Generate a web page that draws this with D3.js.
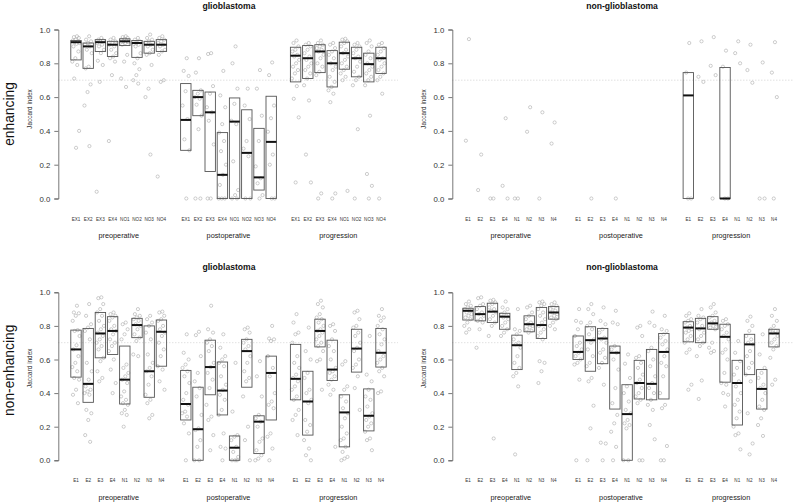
<!DOCTYPE html>
<html><head><meta charset="utf-8">
<script src="https://cdn.jsdelivr.net/npm/d3@7"></script>
<style>body{margin:0;background:#fff}svg{display:block}text{font-family:"Liberation Sans",Arial,Helvetica,sans-serif}</style>
</head><body><svg id="c" width="794" height="504"></svg>
<script>
// ---------- data ----------
const groups = ["preoperative", "postoperative", "progression"];
const catsEXNO = ["EX1","EX2","EX3","EX4","NO1","NO2","NO3","NO4"];
const catsEN = ["E1","E2","E3","E4","N1","N2","N3","N4"];
const rowLabels = ["enhancing", "non-enhancing"];
const colTitles = ["glioblastoma", "non-glioblastoma"];
const yTicks = [0, 0.2, 0.4, 0.6, 0.8, 1.0];
const threshold = 0.7;

// top-left: glioblastoma, enhancing
const tlQ1  = [0.82,0.77,0.87,0.84,0.905,0.835,0.86,0.87, 0.285,0.49,0.16,0.0,0.0,0.0,0.05,0.0, 0.69,0.71,0.745,0.66,0.765,0.72,0.69,0.74];
const tlMed = [0.925,0.90,0.925,0.91,0.93,0.92,0.91,0.91, 0.465,0.60,0.51,0.14,0.455,0.27,0.125,0.335, 0.845,0.83,0.87,0.80,0.86,0.83,0.795,0.83];
const tlQ3  = [0.935,0.92,0.94,0.93,0.945,0.935,0.93,0.94, 0.68,0.64,0.63,0.39,0.595,0.525,0.415,0.605, 0.895,0.905,0.91,0.875,0.925,0.895,0.86,0.895];
const tlPts = [
 [0.96,0.955,0.95,0.94,0.935,0.93,0.925,0.92,0.915,0.90,0.87,0.83,0.81,0.79,0.71,0.40,0.30],
 [0.96,0.94,0.93,0.92,0.91,0.90,0.88,0.86,0.78,0.77,0.675,0.63,0.55,0.31],
 [0.95,0.94,0.935,0.93,0.92,0.91,0.90,0.88,0.86,0.815,0.79,0.69,0.04],
 [0.95,0.94,0.93,0.92,0.91,0.90,0.88,0.86,0.84,0.83,0.81,0.73,0.34],
 [0.96,0.955,0.95,0.945,0.94,0.935,0.93,0.925,0.92,0.91,0.85,0.81,0.71,0.66],
 [0.95,0.94,0.93,0.92,0.915,0.91,0.90,0.86,0.83,0.80,0.765,0.73,0.70,0.68],
 [0.97,0.95,0.94,0.93,0.92,0.91,0.90,0.88,0.86,0.85,0.79,0.65,0.60,0.26],
 [0.96,0.95,0.94,0.93,0.92,0.91,0.90,0.88,0.87,0.85,0.70,0.69,0.13],
 [0.83,0.755,0.725,0.635,0.55,0.47,0.35,0.285,0.0],
 [0.83,0.745,0.64,0.62,0.60,0.59,0.555,0.49,0.41,0.0,0.0],
 [0.86,0.855,0.665,0.62,0.54,0.51,0.46,0.32,0.0,0.0],
 [0.755,0.61,0.54,0.44,0.39,0.34,0.28,0.20,0.14,0.08,0.0,0.0,0.0],
 [0.90,0.80,0.65,0.56,0.46,0.44,0.22,0.05,0.02,0.0,0.0],
 [0.65,0.55,0.47,0.34,0.295,0.25,0.0,0.0],
 [0.76,0.65,0.49,0.34,0.19,0.12,0.09,0.02,0.0],
 [0.805,0.73,0.55,0.475,0.395,0.26,0.20,0.0,0.0],
 [0.935,0.92,0.90,0.88,0.87,0.85,0.84,0.82,0.80,0.78,0.76,0.74,0.71,0.665,0.59,0.48,0.095],
 [0.92,0.91,0.90,0.88,0.86,0.84,0.82,0.80,0.78,0.76,0.74,0.71,0.67,0.58,0.26,0.095],
 [0.935,0.92,0.91,0.90,0.89,0.88,0.87,0.85,0.83,0.80,0.78,0.75,0.73,0.03,0.0],
 [0.92,0.91,0.89,0.87,0.85,0.83,0.80,0.78,0.76,0.72,0.69,0.66,0.64,0.62,0.57,0.03,0.0],
 [0.945,0.94,0.93,0.92,0.90,0.88,0.86,0.84,0.82,0.80,0.78,0.76,0.74,0.72,0.70,0.045],
 [0.92,0.91,0.90,0.88,0.86,0.84,0.83,0.81,0.78,0.75,0.72,0.70,0.67,0.41,0.0],
 [0.935,0.92,0.90,0.87,0.85,0.83,0.80,0.78,0.76,0.74,0.72,0.70,0.67,0.49,0.145,0.075,0.0],
 [0.92,0.91,0.89,0.87,0.85,0.83,0.82,0.80,0.78,0.76,0.74,0.72,0.70,0.62,0.0]
];

// top-right: non-glioblastoma, enhancing
const trQ1  = [null,null,null,null,null,null,null,null, null,null,null,null,null,null,null,null, 0.0,null,null,0.0,null,null,null,null];
const trMed = [null,null,null,null,null,null,null,null, null,null,null,null,null,null,null,null, 0.61,null,null,0.0,null,null,null,null];
const trQ3  = [null,null,null,null,null,null,null,null, null,null,null,null,null,null,null,null, 0.745,null,null,0.775,null,null,null,null];
const trPts = [
 [0.943,0.342],[0.26,0.05],[0,0],[0.475,0.075,0],[0,0],[0.54,0.395],[0.51,0],[0.45,0.325],
 [],[0],[],[0],[],[],[],[],
 [0.92,0.745,0,0],[0.93,0.72,0.69],[0.955,0.785,0.73,0],[0.875,0.78,0,0],[0.93,0.86,0.80],[0.91,0.76,0.685],[0.805,0,0],[0.925,0.745,0.60,0]
];

// bottom-left: glioblastoma, non-enhancing
const blQ1  = [0.495,0.345,0.61,0.63,0.335,0.73,0.375,0.56, 0.24,0.0,0.39,0.27,0.0,0.435,0.04,0.24, 0.36,0.15,0.675,0.475,0.08,0.525,0.175,0.555];
const blMed = [0.66,0.455,0.755,0.77,0.48,0.805,0.53,0.765, 0.335,0.185,0.555,0.415,0.075,0.65,0.23,0.52, 0.485,0.35,0.77,0.54,0.285,0.665,0.265,0.64];
const blQ3  = [0.775,0.785,0.88,0.855,0.68,0.845,0.80,0.835, 0.535,0.435,0.715,0.585,0.145,0.72,0.265,0.62, 0.69,0.53,0.84,0.715,0.39,0.78,0.425,0.785];
const blPts = [
 [0.92,0.88,0.875,0.86,0.83,0.775,0.77,0.74,0.685,0.66,0.62,0.58,0.555,0.53,0.49,0.48,0.42,0.39,0.34],
 [0.93,0.86,0.81,0.79,0.77,0.72,0.58,0.53,0.48,0.44,0.42,0.41,0.40,0.39,0.30,0.28,0.24,0.15,0.11],
 [0.97,0.965,0.93,0.90,0.88,0.86,0.83,0.80,0.78,0.76,0.74,0.72,0.70,0.68,0.66,0.61,0.59,0.53,0.49,0.47],
 [0.88,0.87,0.86,0.85,0.83,0.80,0.78,0.77,0.75,0.72,0.70,0.68,0.65,0.60,0.54,0.46,0.40],
 [0.82,0.81,0.78,0.75,0.72,0.57,0.55,0.52,0.50,0.48,0.46,0.41,0.38,0.36,0.34,0.33,0.30,0.28,0.27,0.20],
 [0.90,0.87,0.86,0.85,0.84,0.83,0.81,0.80,0.78,0.75,0.73,0.71,0.63,0.62],
 [0.86,0.84,0.82,0.80,0.76,0.72,0.63,0.58,0.55,0.53,0.50,0.45,0.39,0.36,0.34,0.27,0.25],
 [0.885,0.88,0.86,0.84,0.83,0.80,0.78,0.76,0.74,0.70,0.66,0.62,0.56,0.54,0.47,0.42],
 [0.75,0.64,0.60,0.57,0.55,0.53,0.50,0.46,0.40,0.36,0.33,0.29,0.28,0.26,0.22,0.16,0.0],
 [0.765,0.745,0.62,0.52,0.47,0.43,0.38,0.27,0.19,0.18,0.12,0.08,0.0,0.0],
 [0.92,0.78,0.76,0.72,0.70,0.68,0.65,0.58,0.555,0.52,0.48,0.43,0.33,0.26,0.24,0.15,0.06],
 [0.75,0.67,0.62,0.60,0.58,0.56,0.50,0.45,0.42,0.39,0.36,0.30,0.27,0.16,0.08,0.07,0.0],
 [0.58,0.29,0.15,0.14,0.12,0.08,0.05,0.02,0.0,0.0,0.0],
 [0.79,0.78,0.76,0.72,0.70,0.68,0.66,0.62,0.58,0.53,0.49,0.47,0.38,0.20,0.12,0.0],
 [0.59,0.50,0.38,0.27,0.25,0.23,0.20,0.13,0.11,0.06,0.03,0.01,0.0],
 [0.80,0.725,0.72,0.71,0.62,0.55,0.50,0.40,0.35,0.33,0.31,0.16,0.14,0.07,0.0],
 [0.87,0.82,0.76,0.75,0.70,0.62,0.58,0.55,0.51,0.49,0.47,0.44,0.42,0.38,0.36,0.30,0.27,0.24,0.15],
 [0.79,0.65,0.60,0.52,0.49,0.42,0.40,0.36,0.34,0.24,0.21,0.17,0.12,0.07,0.03,0.0],
 [0.95,0.93,0.91,0.87,0.85,0.84,0.82,0.80,0.78,0.77,0.76,0.74,0.72,0.70,0.68,0.65,0.60,0.59,0.42],
 [0.81,0.80,0.77,0.72,0.68,0.65,0.60,0.55,0.53,0.52,0.50,0.48,0.45,0.42,0.39,0.08],
 [0.59,0.57,0.44,0.42,0.38,0.35,0.31,0.28,0.25,0.20,0.16,0.13,0.12,0.08,0.05,0.02,0.01,0.0],
 [0.89,0.88,0.84,0.80,0.79,0.76,0.74,0.70,0.67,0.65,0.60,0.57,0.55,0.50,0.43,0.30],
 [0.74,0.51,0.47,0.42,0.38,0.36,0.32,0.28,0.26,0.24,0.22,0.20,0.17,0.13,0.12,0.06],
 [0.90,0.86,0.85,0.83,0.80,0.78,0.75,0.72,0.69,0.65,0.62,0.60,0.58,0.55,0.53,0.50,0.41,0.40]
];

// bottom-right: non-glioblastoma, non-enhancing
const brQ1  = [0.835,0.83,0.82,0.78,0.54,0.765,0.725,0.84, 0.60,0.53,0.575,0.305,0.0,0.365,0.36,0.365, 0.705,0.70,0.78,0.465,0.21,0.51,0.305,0.675];
const brMed = [0.89,0.87,0.885,0.855,0.685,0.81,0.805,0.88, 0.645,0.715,0.725,0.64,0.275,0.46,0.455,0.645, 0.79,0.785,0.815,0.735,0.46,0.69,0.425,0.755];
const brQ3  = [0.905,0.915,0.935,0.875,0.745,0.86,0.91,0.915, 0.74,0.795,0.785,0.68,0.45,0.595,0.66,0.755, 0.825,0.845,0.855,0.81,0.595,0.75,0.54,0.78];
const brPts = [
 [0.945,0.93,0.92,0.91,0.90,0.89,0.88,0.87,0.86,0.85,0.84,0.82,0.80,0.78,0.76],
 [0.97,0.965,0.93,0.92,0.90,0.88,0.87,0.86,0.84,0.83,0.82,0.78,0.67],
 [0.955,0.95,0.94,0.93,0.91,0.90,0.89,0.88,0.86,0.84,0.82,0.80,0.74,0.13],
 [0.945,0.91,0.90,0.88,0.87,0.86,0.85,0.84,0.82,0.80,0.78,0.76,0.74],
 [0.90,0.78,0.77,0.75,0.72,0.70,0.69,0.67,0.62,0.58,0.55,0.52,0.50,0.44,0.035],
 [0.92,0.91,0.88,0.86,0.84,0.82,0.81,0.80,0.79,0.78,0.77,0.76],
 [0.945,0.94,0.93,0.92,0.90,0.88,0.86,0.84,0.82,0.80,0.78,0.76,0.74,0.72,0.59,0.58,0.53,0.46],
 [0.94,0.93,0.92,0.91,0.90,0.89,0.88,0.87,0.86,0.85,0.84,0.82,0.80,0.78],
 [0.90,0.83,0.82,0.78,0.74,0.70,0.68,0.66,0.64,0.62,0.60,0.58,0.57,0.48,0.0],
 [0.93,0.90,0.87,0.82,0.80,0.78,0.75,0.72,0.70,0.66,0.62,0.58,0.56,0.49,0.47,0.325,0.19,0.0],
 [0.91,0.83,0.81,0.78,0.76,0.73,0.72,0.70,0.66,0.64,0.61,0.58,0.55,0.45,0.105,0.10,0.0],
 [0.89,0.82,0.81,0.68,0.66,0.64,0.60,0.54,0.43,0.34,0.27,0.22,0.17,0.08,0.0],
 [0.63,0.575,0.49,0.44,0.40,0.35,0.30,0.28,0.24,0.22,0.21,0.19,0.0,0.0],
 [0.80,0.79,0.74,0.62,0.61,0.58,0.55,0.51,0.48,0.46,0.43,0.40,0.38,0.36,0.34,0.0,0.0],
 [0.885,0.82,0.80,0.67,0.65,0.60,0.56,0.50,0.46,0.43,0.40,0.36,0.33,0.30,0.21,0.125],
 [0.86,0.78,0.77,0.75,0.73,0.71,0.69,0.66,0.62,0.58,0.56,0.50,0.40,0.33,0.31,0.085,0.0,0.0],
 [0.875,0.86,0.84,0.83,0.82,0.80,0.79,0.78,0.77,0.76,0.74,0.72,0.70,0.66,0.64,0.45,0.42],
 [0.90,0.86,0.85,0.84,0.82,0.80,0.78,0.76,0.74,0.72,0.70,0.68,0.62,0.475,0.365],
 [0.93,0.91,0.88,0.86,0.85,0.83,0.82,0.81,0.80,0.79,0.78,0.70,0.67,0.65,0.64],
 [0.84,0.83,0.81,0.80,0.78,0.76,0.74,0.72,0.66,0.64,0.60,0.52,0.46,0.45,0.40,0.39,0.32],
 [0.71,0.64,0.59,0.55,0.51,0.47,0.44,0.40,0.36,0.33,0.29,0.25,0.20,0.16,0.15,0.065],
 [0.855,0.83,0.80,0.77,0.74,0.72,0.70,0.69,0.65,0.62,0.58,0.55,0.51,0.47,0.28,0.10,0.035],
 [0.75,0.63,0.55,0.52,0.49,0.45,0.43,0.40,0.36,0.32,0.30,0.25,0.21,0.145],
 [0.90,0.86,0.83,0.80,0.78,0.77,0.76,0.74,0.72,0.70,0.68,0.66,0.61,0.48,0.45]
];

// ---------- layout ----------
const svg = d3.select("#c");
const FONT = '"Liberation Sans",Arial,Helvetica,sans-serif';
const panels = [
  {row:0, col:0, cats:catsEXNO, q1:tlQ1, med:tlMed, q3:tlQ3, pts:tlPts},
  {row:0, col:1, cats:catsEN,   q1:trQ1, med:trMed, q3:trQ3, pts:trPts},
  {row:1, col:0, cats:catsEN,   q1:blQ1, med:blMed, q3:blQ3, pts:blPts},
  {row:1, col:1, cats:catsEN,   q1:brQ1, med:brMed, q3:brQ3, pts:brPts}
];
const colGeom = [
  {axisX:58.3, regionR:398, first:76, last:381, titleX:229, ylabX:29.5},
  {axisX:452.3, regionR:793, first:468, last:774, titleX:622, ylabX:423}
];
const rowGeom = [
  {yTop:29.5, yBot:198.5, titleY:8.5, labOff:-5},
  {yTop:292.3, yBot:460.3, titleY:269.8, labOff:-8}
];
// slot positions: 3 groups of 8, with a gap between groups
const slotIndex = d => Math.floor(d / 8) * 9 + (d % 8) + 1;
const jitter = i => (((i + 1) * 0.6180339887) % 1 - 0.5) * 8;

panels.forEach(p => {
  const cg = colGeom[p.col], rg = rowGeom[p.row];
  const y = d3.scaleLinear().domain([0, 1]).range([rg.yBot, rg.yTop]);
  const x = d3.scaleLinear().domain([1, 26]).range([cg.first, cg.last]);
  const g = svg.append("g");
  const halfW = 5.2;

  // threshold line
  g.append("line").attr("x1", cg.axisX).attr("x2", cg.regionR)
    .attr("y1", y(threshold)).attr("y2", y(threshold))
    .attr("stroke", "#c8c8c8").attr("stroke-width", 0.8).attr("stroke-dasharray", "1,2");

  // y axis
  const ax = g.append("g").attr("transform", `translate(${cg.axisX},0)`)
    .call(d3.axisLeft(y).tickValues(yTicks).tickFormat(d3.format(".1f")).tickSize(4).tickPadding(4));
  ax.select(".domain").attr("stroke", "#555").attr("stroke-width", 0.8);
  ax.selectAll(".tick line").attr("stroke", "#555").attr("stroke-width", 0.8);
  ax.selectAll(".tick text").attr("font-family", FONT).attr("font-size", 7.8).attr("fill", "#333");

  // y label
  g.append("text").attr("transform", `translate(${cg.ylabX},${(rg.yTop + rg.yBot) / 2 + rg.labOff}) rotate(-90)`)
    .attr("text-anchor", "middle").attr("dominant-baseline", "central")
    .attr("font-size", 6.4).attr("fill", "#333").text("Jaccard index");

  // title
  g.append("text").attr("x", cg.titleX).attr("y", rg.titleY).attr("text-anchor", "middle")
    .attr("font-size", 8.6).attr("font-weight", "bold").attr("fill", "#111").text(colTitles[p.col]);

  // points
  p.pts.forEach((vals, ci) => {
    const cx = x(slotIndex(ci));
    g.selectAll(null).data(vals).enter().append("circle")
      .attr("cx", (d, i) => cx + jitter(i)).attr("cy", d => y(d)).attr("r", 1.6)
      .attr("fill", "none").attr("stroke", "#ababab").attr("stroke-width", 0.6);
  });

  // boxes
  p.q1.forEach((q1, ci) => {
    if (q1 === null) return;
    const cx = x(slotIndex(ci));
    g.append("rect").attr("x", cx - halfW).attr("width", 2 * halfW)
      .attr("y", y(p.q3[ci])).attr("height", Math.max(0.5, y(q1) - y(p.q3[ci])))
      .attr("fill", "none").attr("stroke", "#555").attr("stroke-width", 0.9);
    g.append("line").attr("x1", cx - halfW).attr("x2", cx + halfW)
      .attr("y1", y(p.med[ci])).attr("y2", y(p.med[ci]))
      .attr("stroke", "#111").attr("stroke-width", 2);
  });

  // category labels
  for (let ci = 0; ci < 24; ci++) {
    g.append("text").attr("x", x(slotIndex(ci))).attr("y", rg.yBot + 22)
      .attr("text-anchor", "middle").attr("font-size", 4.6).attr("fill", "#333")
      .text(p.cats[ci % 8]);
  }
  // group labels
  groups.forEach((gname, gi) => {
    const cx = (x(slotIndex(gi * 8)) + x(slotIndex(gi * 8 + 7))) / 2;
    g.append("text").attr("x", cx).attr("y", rg.yBot + 39.5)
      .attr("text-anchor", "middle").attr("font-size", 7.3).attr("fill", "#222").text(gname);
  });
});

// row labels
rowGeom.forEach((rg, ri) => {
  svg.append("text").attr("transform", `translate(9,${(rg.yTop + rg.yBot) / 2 + (ri ? -6 : 0)}) rotate(-90)`)
    .attr("text-anchor", "middle").attr("dominant-baseline", "central")
    .attr("font-size", 13.8).attr("fill", "#111").text(rowLabels[ri]);
});
</script></body></html>
